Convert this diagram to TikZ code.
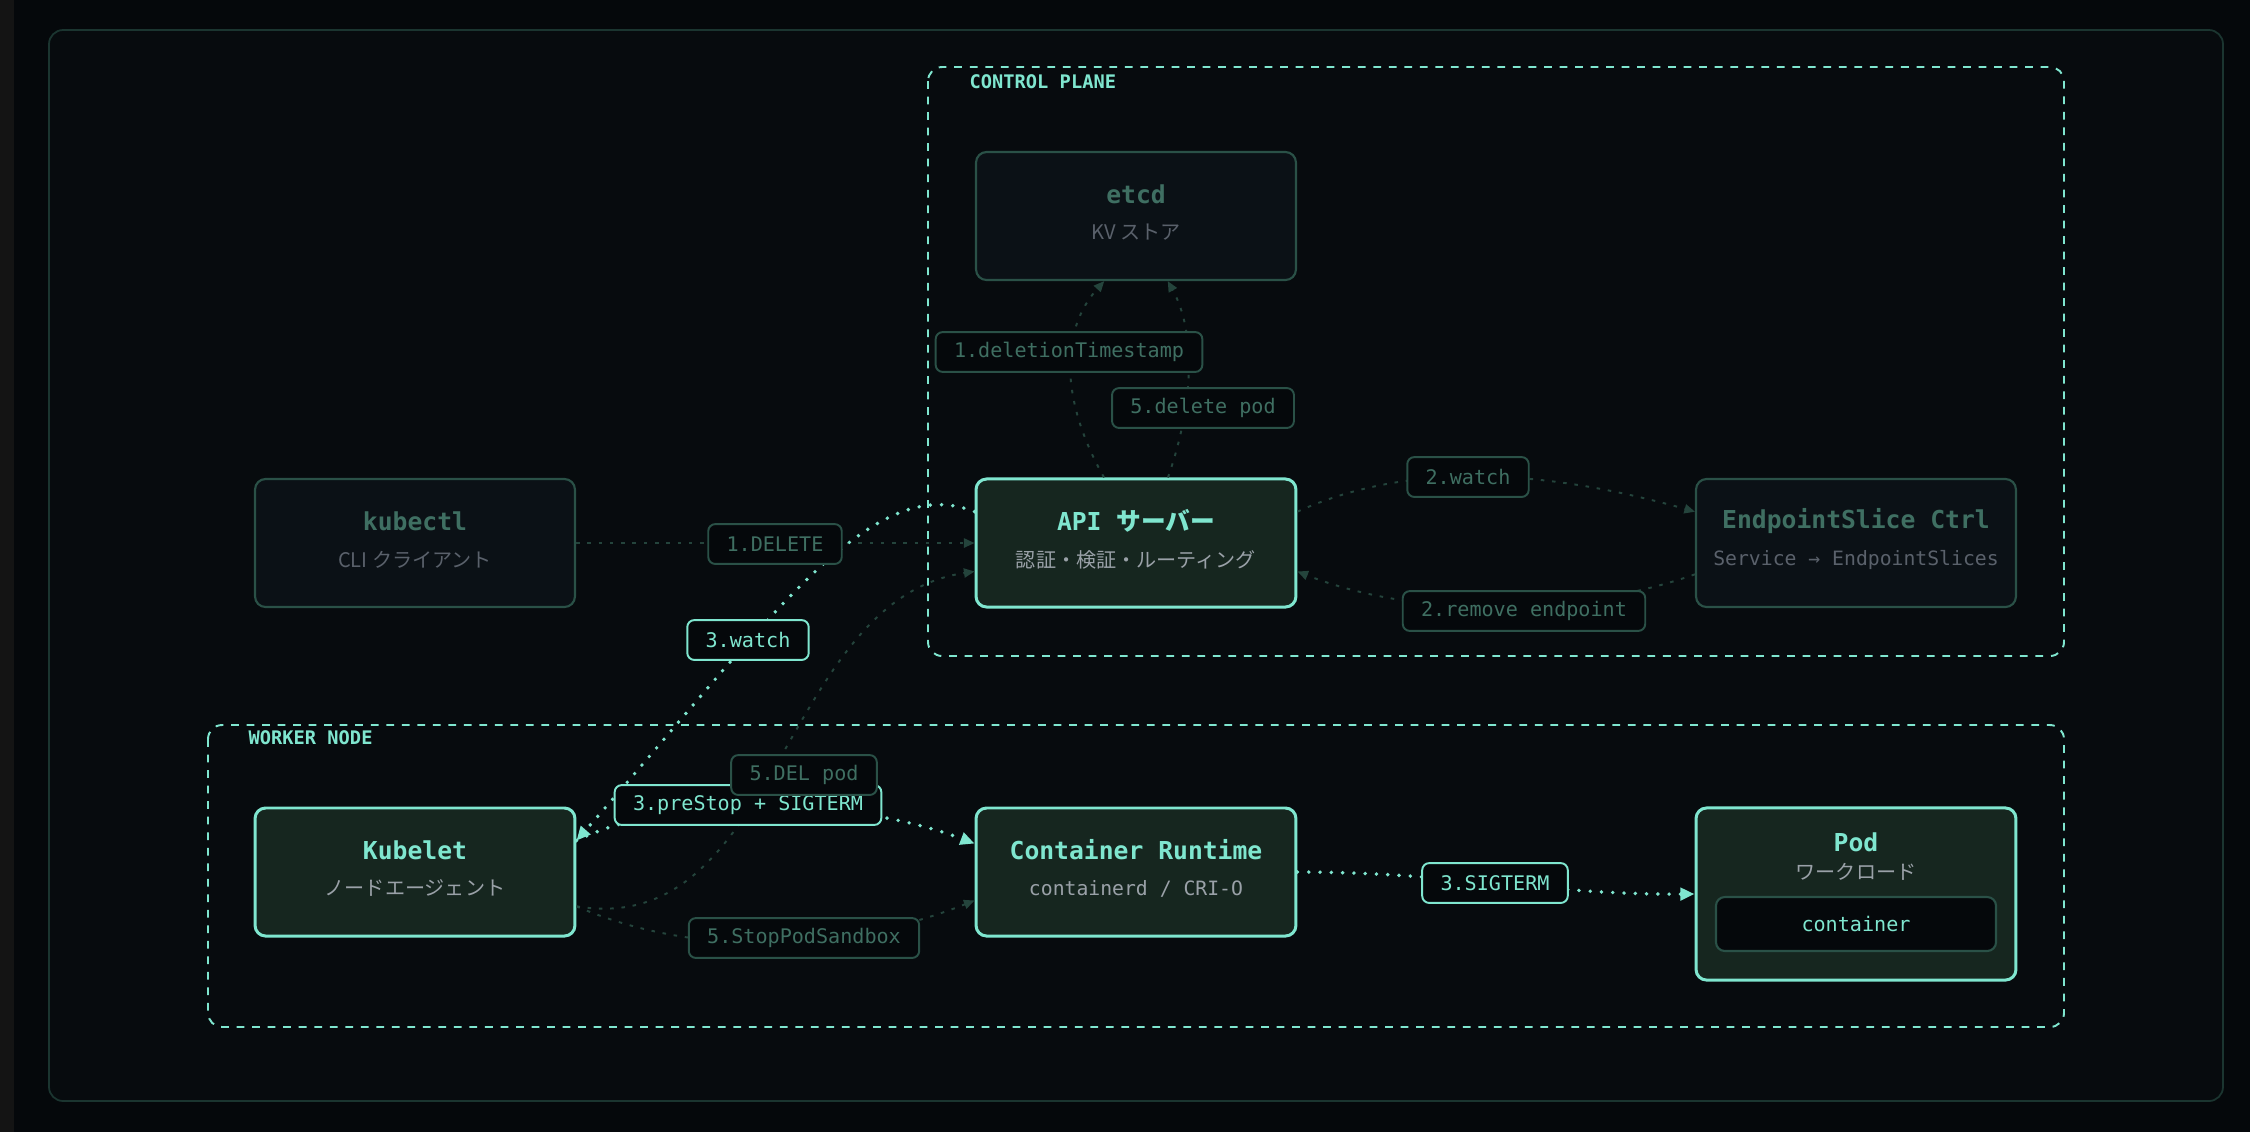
\documentclass[tikz,border=0pt]{standalone}
\usepackage{fontspec}
\setmonofont{DejaVu Sans Mono}
\newfontfamily\jp{Noto Sans CJK JP}
\usetikzlibrary{arrows.meta}
\definecolor{bg}{HTML}{05080B}
\definecolor{frame}{HTML}{070B0E}
\definecolor{frameln}{HTML}{1B3530}
\definecolor{mint}{HTML}{7FE6CF}
\definecolor{dimln}{HTML}{2A5147}
\definecolor{dimtx}{HTML}{3F6F62}
\definecolor{gray1}{HTML}{9AA1A8}
\definecolor{gray2}{HTML}{5A616B}
\definecolor{actfill}{HTML}{16261F}
\definecolor{dimfill}{HTML}{0B1116}
\definecolor{edgedim}{HTML}{24443C}
\tikzset{
  actbox/.style={draw=mint,line width=0.85pt,fill=actfill,rounded corners=3pt,minimum width=90.7pt,minimum height=36.3pt,inner sep=0pt},
  dimbox/.style={draw=dimln,line width=0.6pt,fill=dimfill,rounded corners=3pt,minimum width=90.7pt,minimum height=36.3pt,inner sep=0pt},
  ttl/.style={font=\ttfamily\bfseries\fontsize{7}{8}\selectfont},
  sub/.style={font=\jp\fontsize{5.7}{6}\selectfont},
  lbl/.style={draw=mint,line width=0.55pt,fill=bg,rounded corners=2pt,text=mint,font=\ttfamily\fontsize{5.7}{6}\selectfont,minimum height=11.3pt,inner xsep=5.2pt,inner ysep=0pt},
  lbldim/.style={draw=dimln,line width=0.55pt,fill=bg,rounded corners=2pt,text=dimtx,font=\ttfamily\fontsize{5.7}{6}\selectfont,minimum height=11.3pt,inner xsep=5.2pt,inner ysep=0pt},
  edgeb/.style={draw=mint,line width=1.1pt,line cap=round,dash pattern=on 0pt off 3.2pt,-{Triangle[length=4pt,width=3.5pt,line cap=butt]}},
  edged/.style={draw=edgedim,line width=0.55pt,dash pattern=on 1pt off 2.2pt,-{Triangle[length=3pt,width=2.6pt]}},
  group/.style={draw=mint,line width=0.55pt,dash pattern=on 2.2pt off 2.2pt,rounded corners=4pt},
  grouptitle/.style={text=mint,font=\ttfamily\bfseries\fontsize{5.3}{6}\selectfont,anchor=west,inner sep=0pt}
}
\begin{document}
\begin{tikzpicture}[x=0.2835pt,y=-0.2835pt]
\useasboundingbox (0,0) rectangle (2250,1132);
\fill[bg] (0,0) rectangle (2250,1132);
\fill[black!92!white] (0,0) rectangle (14,1132);
\draw[frameln,line width=0.5pt,fill=frame,rounded corners=4pt] (49,30) rectangle (2223,1101);
% groups
\draw[group] (928,67) rectangle (2064,656);
\node[grouptitle] (cpt) at (969,82) {CONTROL PLANE};
\draw[group] (208,725) rectangle (2064,1027);
\node[grouptitle] (wnt) at (248,738) {WORKER NODE};
% nodes
\node[dimbox] (etcd) at (1136,216) {};
\node[ttl,text=dimtx] at (1136,194) {etcd};
\node[sub,text=gray2] at (1136,232) {KV ストア};
\node[actbox] (api) at (1136,543) {};
\node[ttl,text=mint] at (1136,521) {API {\jp\bfseries サーバー}};
\node[sub,text=gray1] at (1136,560) {認証・検証・ルーティング};
\node[dimbox] (kctl) at (415,543) {};
\node[ttl,text=dimtx] at (415,521) {kubectl};
\node[sub,text=gray2] at (415,560) {CLI クライアント};
\node[dimbox] (es) at (1856,543) {};
\node[ttl,text=dimtx] at (1856,521) {EndpointSlice Ctrl};
\node[font=\ttfamily\fontsize{5.6}{6}\selectfont,text=gray2] at (1856,560) {Service → EndpointSlices};
\node[actbox] (kub) at (415,872) {};
\node[ttl,text=mint] at (415,850) {Kubelet};
\node[sub,text=gray1] at (415,888) {ノードエージェント};
\node[actbox] (cr) at (1136,872) {};
\node[ttl,text=mint] at (1136,850) {Container Runtime};
\node[font=\ttfamily\fontsize{5.6}{6}\selectfont,text=gray1] at (1136,889) {containerd / CRI-O};
\node[actbox,minimum height=48.8pt] (pod) at (1856,894) {};
\node[ttl,text=mint] at (1856,842) {Pod};
\node[sub,text=gray1] at (1856,872) {ワークロード};
\node[draw=dimln,line width=0.6pt,fill=bg,rounded corners=2.5pt,minimum width=79.4pt,minimum height=15.3pt,text=mint,font=\ttfamily\fontsize{5.7}{6}\selectfont] (ctr) at (1856,924) {container};
% dim edges
\draw[edged] (kctl.east) -- (api.west);
\draw[edged] (api.116) .. controls (1060,400) and (1060,330) .. (etcd.244);
\draw[edged] (api.64) .. controls (1195,400) and (1195,330) .. (etcd.296);
\draw[edged] (api.11) .. controls (1400,465) and (1530,465) .. (es.169);
\draw[edged] (es.191) .. controls (1580,615) and (1420,620) .. (api.350);
\draw[edged] (kub.348) .. controls (780,940) and (780,600) .. (api.190);
\draw[edged] (kub.348) .. controls (700,960) and (850,950) .. (cr.190);
% bright edges
\draw[edgeb] (api.169) .. controls (870,470) and (770,620) .. (kub.11);
\draw[edgeb] (kub.11) .. controls (680,790) and (860,800) .. (cr.170);
\draw[edgeb] (cr.east) .. controls (1450,872) and (1550,895) .. (pod.west);
% labels
\node[lbldim] (l1) at (1069,352) {1.deletionTimestamp};
\node[lbldim] (l2) at (1203,408) {5.delete pod};
\node[lbldim] (l3) at (1468,477) {2.watch};
\node[lbldim] (l4) at (1524,611) {2.remove endpoint};
\node[lbldim] (l5) at (775,544) {1.DELETE};
\node[lbl] (l6) at (748,640) {3.watch};
\node[lbl] (l7) at (748,805) {3.preStop + SIGTERM};
\node[lbldim] (l8) at (804,775) {5.DEL pod};
\node[lbldim] (l9) at (804,938) {5.StopPodSandbox};
\node[lbl] (l10) at (1495,883) {3.SIGTERM};
\end{tikzpicture}
\end{document}
